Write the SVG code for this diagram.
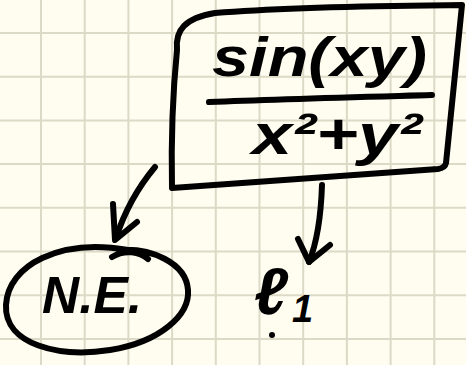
<svg xmlns="http://www.w3.org/2000/svg" width="466" height="365" viewBox="0 0 466 365">
<style>
.grid line{stroke:#dcd9c6;stroke-width:2}
.ink{fill:none;stroke:#000;stroke-width:6;stroke-linecap:round;stroke-linejoin:round}
.hand{font-family:"Liberation Sans",Arial,sans-serif;font-style:italic;font-weight:bold;fill:#000}
</style>
<rect width="466" height="365" fill="#fffdf0"/>
<g class="grid">
<line x1="41" y1="0" x2="41" y2="365"/><line x1="84.7" y1="0" x2="84.7" y2="365"/><line x1="128.4" y1="0" x2="128.4" y2="365"/><line x1="172.1" y1="0" x2="172.1" y2="365"/><line x1="215.8" y1="0" x2="215.8" y2="365"/><line x1="259.5" y1="0" x2="259.5" y2="365"/><line x1="303.2" y1="0" x2="303.2" y2="365"/><line x1="346.9" y1="0" x2="346.9" y2="365"/><line x1="390.6" y1="0" x2="390.6" y2="365"/><line x1="434.3" y1="0" x2="434.3" y2="365"/>
<line x1="0" y1="33" x2="466" y2="33"/><line x1="0" y1="76.7" x2="466" y2="76.7"/><line x1="0" y1="120.4" x2="466" y2="120.4"/><line x1="0" y1="164.1" x2="466" y2="164.1"/><line x1="0" y1="207.8" x2="466" y2="207.8"/><line x1="0" y1="251.5" x2="466" y2="251.5"/><line x1="0" y1="295.2" x2="466" y2="295.2"/><line x1="0" y1="338.9" x2="466" y2="338.9"/>
</g>
<g id="fraction">
<path class="ink" d="M177,50 C175,30 185,18 215,13 C300,6 400,6 462,5 L446,163 Q445,168 438,169 L172,188 C171,140 173,90 177,50 Z"/>
<text class="hand" x="212" y="76" font-size="56" textLength="215" lengthAdjust="spacingAndGlyphs">sin(xy)</text>
<path class="ink" d="M209,102 C280,99 360,97 432,95"/>
<text class="hand" x="252" y="154" font-size="58" textLength="170" lengthAdjust="spacingAndGlyphs">x²+y²</text>
</g>
<g id="ne">
<path class="ink" d="M112,257 C125,249 140,252 148,259 M128,250 C60,238 8,265 6,305 C4,345 60,358 110,350 C160,342 190,315 188,290 C186,262 150,248 120,250"/>
<text class="hand" x="42" y="313" font-size="52" textLength="100" lengthAdjust="spacingAndGlyphs">N.E.</text>
</g>
<g id="l1">
<text class="hand" x="254" y="314" font-size="66">ℓ<tspan font-size="38" dx="4" dy="8">1</tspan></text>
<circle cx="272" cy="335" r="3" fill="#000"/>
</g>
<g id="connectors">
<path class="ink" d="M155,167 C140,185 125,210 116,238"/>
<path class="ink" d="M113,204 L115,240 L137,222"/>
<path class="ink" d="M322,185 C321,215 318,240 309,262"/>
<path class="ink" d="M298,239 L309,262 L330,245"/>
</g>
</svg>
